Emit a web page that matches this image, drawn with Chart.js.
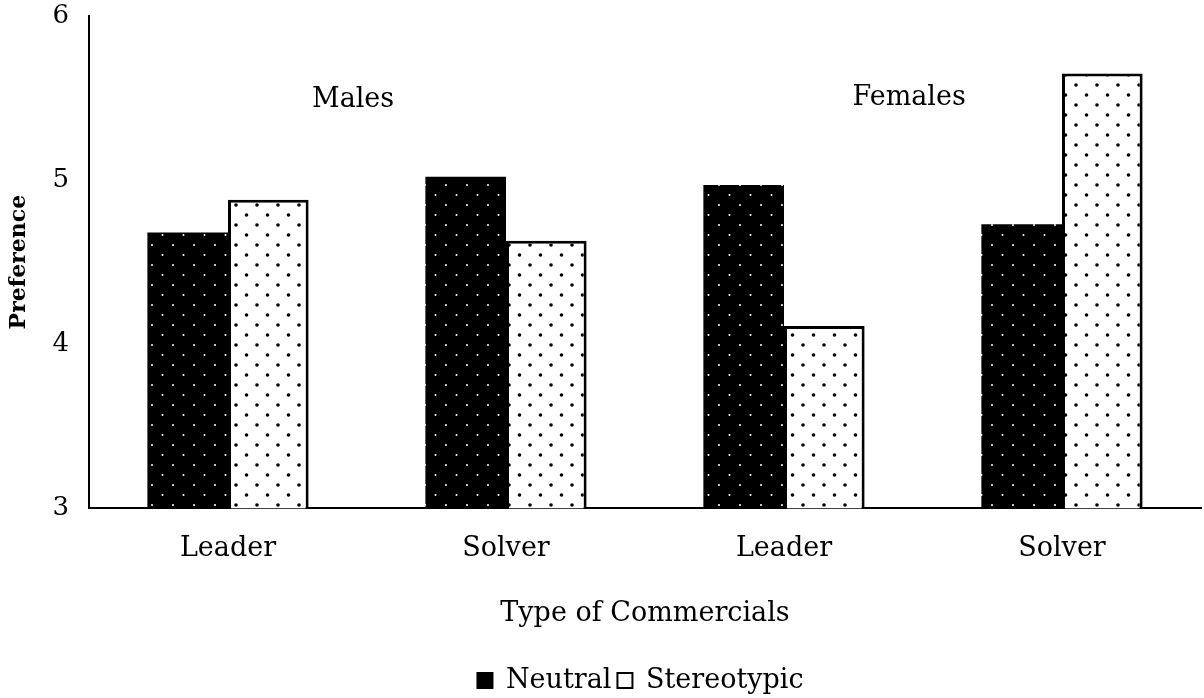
<!DOCTYPE html>
<html>
<head>
<meta charset="utf-8">
<script src="https://cdn.jsdelivr.net/npm/chart.js@4"></script>
<style>
html,body{margin:0;padding:0;background:#fff;}
#wrap{width:1204px;height:698px;}
</style>
</head>
<body>
<div id="wrap"><canvas id="c" width="1204" height="698"></canvas></div>
<script>
const categories = ['Leader', 'Solver', 'Leader', 'Solver'];
const neutral = [4.68, 5.02, 4.97, 4.73];
const stereotypic = [4.88, 4.63, 4.11, 5.65];
const seriesNames = ['Neutral', 'Stereotypic'];
const yTicks = [3, 4, 5, 6];
const groupLabels = ['Males', 'Females'];
const groupPositions = [0.45, 2.45];
const groupLabelValues = [5.49, 5.50];
const xTitle = 'Type of Commercials';
const yTitle = 'Preference';

const FONT = "'DejaVu Serif', serif";

function makePattern(bg, dot, r) {
  const p = document.createElement('canvas');
  p.width = 21; p.height = 20;
  const g = p.getContext('2d');
  g.fillStyle = bg; g.fillRect(0, 0, 21, 20);
  g.fillStyle = dot;
  g.beginPath(); g.arc(5, 5, r, 0, Math.PI * 2); g.fill();
  g.beginPath(); g.arc(15.5, 15, r, 0, Math.PI * 2); g.fill();
  return document.getElementById('c').getContext('2d').createPattern(p, 'repeat');
}
const blackDots = makePattern('#000', '#fff', 1.0);
const whiteDots = makePattern('#fff', '#000', 1.8);

const groupLabelPlugin = {
  id: 'groupLabels',
  afterLayout(chart) {
    if (chart.legend) { chart.legend.left += 40; chart.legend.right += 40; }
  },
  afterDatasetsDraw(chart) {
    const ctx = chart.ctx, xs = chart.scales.x, ys = chart.scales.y;
    ctx.save();
    ctx.font = "27px " + FONT;
    ctx.fillStyle = '#000';
    ctx.textAlign = 'center';
    ctx.textBaseline = 'middle';
    groupLabels.forEach((t, i) => {
      ctx.fillText(t, xs.getPixelForValue(groupPositions[i]), ys.getPixelForValue(groupLabelValues[i]));
    });
    ctx.restore();
  }
};

new Chart(document.getElementById('c'), {
  type: 'bar',
  data: {
    labels: categories,
    datasets: [
      { label: seriesNames[0], data: neutral, backgroundColor: blackDots, borderColor: '#000', borderWidth: 0, borderSkipped: 'bottom' },
      { label: seriesNames[1], data: stereotypic, backgroundColor: whiteDots, borderColor: '#000', borderWidth: 3, borderSkipped: 'bottom' }
    ]
  },
  options: {
    responsive: false,
    animation: false,
    devicePixelRatio: 1,
    categoryPercentage: 0.58,
    barPercentage: 1.0,
    layout: { padding: { top: 0, right: 3, left: 0, bottom: -6 } },
    plugins: {
      tooltip: { enabled: false },
      legend: {
        position: 'bottom',
        labels: {
          font: { family: FONT, size: 27 },
          color: '#000',
          boxWidth: 15,
          boxHeight: 15,
          padding: 6,
          generateLabels(chart) {
            return chart.data.datasets.map((d, i) => ({
              text: d.label,
              fillStyle: i === 0 ? '#000' : '#fff',
              strokeStyle: '#000',
              lineWidth: 2,
              datasetIndex: i,
              hidden: false,
              fontColor: '#000'
            }));
          }
        }
      }
    },
    scales: {
      x: {
        grid: { display: false, drawTicks: false },
        border: { display: true, color: '#000', width: 2 },
        ticks: { color: '#000', font: { family: FONT, size: 27 }, padding: 25 },
        title: { display: true, text: xTitle, color: '#000', font: { family: FONT, size: 27 }, padding: { top: 7, bottom: 31 } }
      },
      y: {
        min: 3, max: 6,
        afterBuildTicks(s) { s.ticks = yTicks.map(v => ({ value: v })); },
        grid: { display: false, drawTicks: false },
        border: { display: true, color: '#000', width: 2 },
        ticks: { color: '#000', font: { family: FONT, size: 26 }, padding: 20 },
        title: { display: true, text: yTitle, color: '#000', font: { family: FONT, size: 22, weight: 'bold' }, padding: { top: 6, bottom: 6 } },
        afterFit(s) { s.width = 89; s.paddingTop = 16; s.paddingBottom = 0; }
      }
    }
  },
  plugins: [groupLabelPlugin]
});
</script>
</body>
</html>
